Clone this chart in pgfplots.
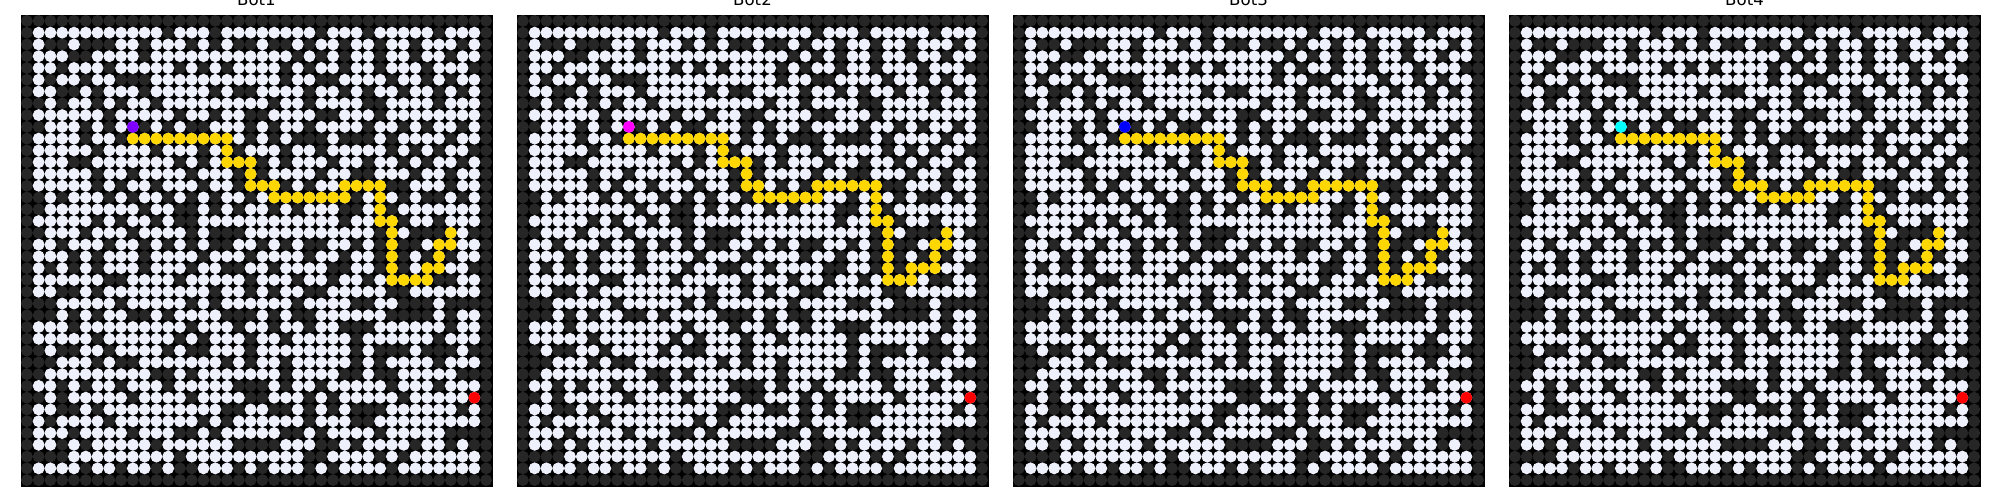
\documentclass[border=0pt]{standalone}
\usepackage{fontspec}
\setmainfont{DejaVu Sans}
\usepackage{pgfplots}
\pgfplotsset{compat=1.18}
\definecolor{cellw}{HTML}{EEF0FC}
\definecolor{celld}{HTML}{262626}
\definecolor{pathc}{HTML}{FFD700}
\newcount\mx
\def\whites{}\def\darks{}
\def\mazerow#1#2{\mx=0 \def\my{#1}\mazescan#2\relax}
\def\mazescan#1{\ifx\relax#1\else
  \ifnum#1=1 \xdef\whites{\whites(\the\mx,\my)}\else\xdef\darks{\darks(\the\mx,\my)}\fi
  \advance\mx by 1 \expandafter\mazescan\fi}
\mazerow{0}{0000000000 0000000000 0000000000 0000000000}
\mazerow{1}{0 11111111111 0 111 0 11111111 0 111 0 11111 0 111 0}
\mazerow{2}{0 1 0 0 1 0 0 0 1 1 0 1 1 1 0 1  0 1 0 0 1 0 0 1 0 1 1 0 1 1 0 1  1 0 1 1 1 0 1 0}
\mazerow{3}{0 1 1 1 0 0 1 1 1 1 0 1 1 1 1  1 1 1 1 1 1 1 1 0 1 0 1 0 1 1 0 1  1 0 1 1 0 1 1 0}
\mazerow{4}{0 1 1 0 1 1 1 0 1 1 1 1 1 0 1  0 1 0 1 1 1 1 0 1 0 1 1 0 1 1 0 1  1 1 0 1 1 1 0 0}
\mazerow{5}{0 1 0 1 1 0 1 1 0 0 0 1 1 1 1  1 1 1 1 1 1 1 0 1 1 0 0 1 1 1 1 0  1 1 0 1 0 1 1 0}
\mazerow{6}{0 1 1 0 0 1 0 1 1 1 0 1 1 1 1  1 0 1 0 0 1 1 1 1 0 1 1 0 1 0 1 1  0 1 1 0 1 0 1 0}
\mazerow{7}{0 0 1 0 1 1 0 1 0 1 1 0 1 1 1  1 1 1 1 1 1 0 1 1 0 1 1 1 1 0 0 1  1 1 1 0 1 1 1 0}
\mazerow{8}{0 1 1 1 1 1 1 0 1 1 1 1 1 0 1  1 0 1 1 0 0 1 1 1 1 0 0 1 1 1 0 1  1 1 1 1 1 1 1 0}
\mazerow{9}{0 0 1 1 1 0 1 0 1 1 0 1 0 1 0  0 1 1 1 0 1 0 1 1 0 1 1 1 1 0 1 1  0 1 0 1 1 0 1 0}
\mazerow{10}{0 1 1 1 1 0 1 1 0  1 1 1 1 1 1 1 1 1  1 0 1 0 1 0 0 0 1 0 0 0 1 0 1 1 1 1 0 1 1  0}
\mazerow{11}{0 1 1 1 1 1 0 1 1 1 1 0 1 1 1  0 1  1  0 1 1 1 0 1 1 0 1 1 1 1 1 0 1 0 1 0 1 1 0  0}
\mazerow{12}{0 1 1 1 0 0 1 1 1 1 1 1 1 0 1  0 1  1 1 1  0 1 0 1 1 1 0 1 1 0 1 1 0 1 0 1 1 0 1  0}
\mazerow{13}{0 1 1 1 1 1 0 1 1 0 1 1 1 1 0  1 1 1 0  1  0 1 1 1 1 0 1 1 0 0 1 1 1 0 1 1 0 1 1  0}
\mazerow{14}{0 1 1 1 1 1 0 1 0 1 1 0 1 1 1 0 1 1 0  1 1 1  0 1 0 1 1  1 1 1 1  0 0 1 1 1 0 1 1  0}
\mazerow{15}{0 0 1 0 1 1 1 0 1 0 1 1 0 1 0 1 0 1 1 0 1  1 1 1 1 1 1 1  0 1  1  1 0 1 0 0 1 0 1  0}
\mazerow{16}{0 0 1 1 1 1 1 1 1 1 0 1 1 0 0 1 0 1 0 1 1 0 1 0 1 1 1 0 0 1  1  0  1 1 1 1 1 1 1  0}
\mazerow{17}{0 1 1 1 1 1 0 1 0 1 1 0 1 0 0 1 1 1 1 1 1 1 1 1 1 1 1 0 1 1 1 1 0 1 1 0 1 1 1 0}
\mazerow{18}{0 0 1 1 1 0 1 1 1 0 1 1 1 1 0 1 0 0 0 1 1 1 1 1 1 1 1 1 1 1 0 1 1 0 0 0 1 1 0 0}
\mazerow{19}{0 1 1 0 1 1 1 0 1 1 0 1 0 1 0 1 0 0 1 1 0 1 0 1 0 0 1 1 0 1 0 1 0 0 1 1 1 1 1 0}
\mazerow{20}{0 1 1 1 0 1 0 1 1 1 0 1 1 1 1 0 1 1 1 0 1 1 1 1 0 1 1 0 1 1 0 1 0 1 0 1 0 1 1 0}
\mazerow{21}{0 1 0 1 0 1 0 1 1 1 0 1 1 1 0 1 1 0 0 1 1 0 1 1 1 1 0 0 1 1 0 1 0 1 1 1 1 1 0 0}
\mazerow{22}{0 1 1 1 1 1 1 0 0 1 1 1 1 0 1 1 1 1 1 0 1 1 1 0 1 1 0 1 1 0 1 1 1 1 1 0 0 1 1 0}
\mazerow{23}{0 1 1 0 0 1 0 1 1 1 1 1 1 1 1 1 0 1 1 0 1 0 1 1 0 0 1 1 1 1 1 0 0 1 1 1 1 1 1 0}
\mazerow{24}{0 0 0 1 1 1 1 1 0 1 1 1 1 1 0 1 0 1 1 1 1 1 1 0 1 1 1 1 0 0 1 1 0 0 0 1 0 0 0 0}
\mazerow{25}{0 0 0 1 0 1 0 1 1 0 0 1 0 1 1 1 1 0 0 0 1 0 1 0 0 1 1 1 1 1 1 0 0 0 0 1 0 1 1 0}
\mazerow{26}{0 1 1 1 0 1 1 1 1 1 1 1 1 1 0 1 1 1 0 1 1 0 1 1 0 1 1 0 0 0 1 1 1 1 1 1 0 1 1 0}
\mazerow{27}{0 1 1 1 1 1 0 1 1 1 1 1 1 0 1 0 1 1 1 0 1 1 0 1 1 1 1 1 0 1 1 1 1 1 1 0 1 1 1 0}
\mazerow{28}{0 0 1 0 0 1 1 0 1 1 1 1 0 1 0 0 1 1 1 0 1 1 1 1 1 1 1 1 0 1 0 0 0 1 0 0 0 1 0 0}
\mazerow{29}{0 0 0 1 1 1 0 1 0 0 1 1 1 1 1 1 1 0 1 0 1 1 0 1 1 1 1 1 0 1 0 1 1 1 1 0 1 1 1 0}
\mazerow{30}{0 0 1 1 1 1 1 1 1 1 1 0 0 1 0 1 1 1 1 1 1 1 0 1 1 1 1 0 0 1 0 0 1 1 1 1 1 0 0 0}
\mazerow{31}{0 1 1 0 1 0 1 1 0 1 1 1 0 1 1 1 1 1 0 0 0 1 0 1 1 0 1 1 1 1 1 0 1 1 1 0 1 1 1 0}
\mazerow{32}{0 0 1 0 1 1 1 1 1 0 1 1 1 1 0 1 1 1 1 0 0 1 1 1 0 1 0 1 1 1 1 1 0 1 1 1 1 1 1 0}
\mazerow{33}{0 1 1 0 0 1 0 1 1 1 1 1 1 1 1 1 1 0 0 1 1 0 0 1 0 1 0 1 0 0 0 1 1 1 1 1 1 0 1 0}
\mazerow{34}{0 1 0 1 1 1 1 0 1 1 1 1 1 1 1 0 1 0 1 1 1 1 1 1 0 1 1 1 0 0 1 1 1 1 1 1 1 1 1 0}
\mazerow{35}{0 1 1 1 0 1 1 1 1 0 1 1 1 0 0 1 0 1 1 1 1 1 0 0 1 0 1 1 1 1 0 1 1 1 1 1 0 0 0 0}
\mazerow{36}{0 1 1 0 1 0 1 1 1 1 1 0 1 1 1 1 1 1 0 0 0 0 1 1 1 0 0 1 0 1 1 1 1 0 1 1 0 1 0 0}
\mazerow{37}{0 0 0 0 1 1 1 1 1 1 1 1 1 0 1 1 1 1 1 1 1 1 1 1 0 0 1 1 1 1 0 1 0 1 1 1 1 1 1 0}
\mazerow{38}{0 1 1 1 1 0 1 1 0 1 1 0 1 0 0 1 1 1 0 1 0 1 1 1 0 1 0 1 1 1 1 0 1 1 1 1 1 1 1 0}
\mazerow{39}{0000000000 0000000000 0000000000 0000000000}
\def\pathA{(9,10)(10,10)(11,10)(12,10)(13,10)(14,10)(15,10)(16,10)(17,10)(17,11)(17,12)(18,12)(19,12)(19,13)(19,14)(20,14)(21,14)(21,15)(22,15)(23,15)(24,15)(25,15)(26,15)(27,15)(27,14)(28,14)(29,14)(30,14)(30,15)(30,16)(30,17)(31,17)(31,18)(31,19)(31,20)(31,21)(31,22)(32,22)(33,22)(34,22)(34,21)(35,21)(35,20)(35,19)(36,19)(36,18)}
\def\pathB{(9,10)(10,10)(11,10)(12,10)(13,10)(14,10)(15,10)(16,10)(17,10)(17,11)(17,12)(18,12)(19,12)(19,13)(19,14)(20,14)(20,15)(21,15)(22,15)(23,15)(24,15)(25,15)(25,14)(26,14)(27,14)(28,14)(29,14)(30,14)(30,15)(30,16)(30,17)(31,17)(31,18)(31,19)(31,20)(31,21)(31,22)(32,22)(33,22)(33,21)(34,21)(35,21)(35,20)(35,19)(36,19)(36,18)}
\def\pathC{(9,10)(10,10)(11,10)(12,10)(13,10)(14,10)(15,10)(16,10)(17,10)(17,11)(17,12)(18,12)(19,12)(19,13)(19,14)(20,14)(21,14)(21,15)(22,15)(23,15)(24,15)(25,15)(25,14)(26,14)(27,14)(28,14)(29,14)(30,14)(30,15)(30,16)(30,17)(31,17)(31,18)(31,19)(31,20)(31,21)(31,22)(32,22)(33,22)(33,21)(34,21)(35,21)(35,20)(35,19)(36,19)(36,18)}
\pgfplotsset{mazeax/.style={scale only axis, width=235.5pt, height=235.5pt,
  xmin=-0.5, xmax=39.5, ymin=-0.5, ymax=39.5, y dir=reverse, ticks=none,
  axis background/.style={fill=black}, axis line style={black},
  clip=false, anchor=south west,
  title style={font=\fontsize{8.3}{10}\selectfont, yshift=-5pt}}}
\newcommand\panel[4]{%
  \edef\tmp{\noexpand\begin{axis}[mazeax, at={(#1,7pt)}, title={#2}]
   \noexpand\addplot[only marks, mark=*, mark size=2.75pt, color=celld, mark options={draw=none}] coordinates {\darks};
   \noexpand\addplot[only marks, mark=*, mark size=2.75pt, color=cellw, mark options={draw=none}] coordinates {\whites};
   \noexpand\addplot[only marks, mark=*, mark size=2.75pt, color=pathc, mark options={draw=none}] coordinates {#4};
   \noexpand\addplot[only marks, mark=*, mark size=2.75pt, color=#3, mark options={draw=none}] coordinates {(9,9)};
   \noexpand\addplot[only marks, mark=*, mark size=2.75pt, color=red, mark options={draw=none}] coordinates {(38,32)};
  \noexpand\end{axis}}\tmp}
\definecolor{st1}{HTML}{7F00FF}
\definecolor{st2}{HTML}{FF00FF}
\definecolor{st3}{HTML}{0000FF}
\definecolor{st4}{HTML}{00FFFF}
\begin{document}
\begin{tikzpicture}
\useasboundingbox (0,0) rectangle (1000pt,250pt);
\clip (0,0) rectangle (1000pt,250pt);
\panel{10.5pt}{Bot1}{st1}{\pathA}
\panel{258.5pt}{Bot2}{st2}{\pathB}
\panel{506.5pt}{Bot3}{st3}{\pathC}
\panel{754.5pt}{Bot4}{st4}{\pathC}
\end{tikzpicture}
\end{document}
